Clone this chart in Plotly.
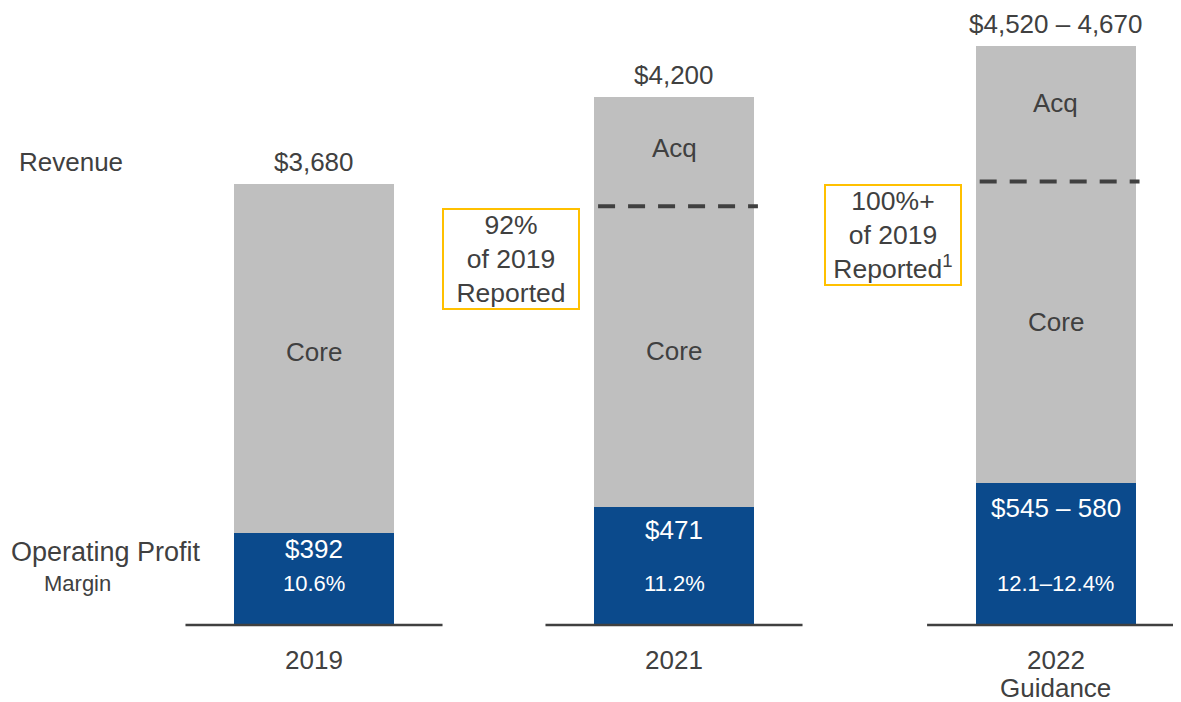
import plotly.graph_objects as go

# ---------------- data ----------------
periods = ["2019", "2021", "2022"]
period_sub = ["", "", "Guidance"]
revenue_labels = ["$3,680", "$4,200", "$4,520 – 4,670"]
profit_labels = ["$392", "$471", "$545 – 580"]
margin_labels = ["10.6%", "11.2%", "12.1–12.4%"]
# bar heights as drawn in the source (the source chart is not to scale),
# expressed in the chart's own $M units (2019 revenue = 3,680)
revenue_bar = [3680, 4405, 4830]
profit_bar = [770, 985, 1185]
core_top = [3680, 3495, 3700]   # top of the "Core" part (dashed line)
callouts = ["92%<br>of 2019<br>Reported", "100%+<br>of 2019<br>Reported<sup>1</sup>"]

# ---------------- styling ----------------
FONT = "Liberation Sans, Arial, sans-serif"
DARK = "#404040"
BLUE = "#0B4A8C"
GREY = "#BFBFBF"
YELLOW = "#FFC000"
WIN_W, WIN_H = 1181, 702
OFF = 8                      # page body margin
W, H = WIN_W - OFF, WIN_H - OFF
x_pos = [0, 1, 2.06]
bar_w = 0.444
PX_X = 360                   # px per x unit
CX0 = 314 - OFF              # px of first bar centre in figure
BASE = 625 - OFF             # px of baseline in figure


def px(xp):
    return (xp - OFF) / W


def py(yp):
    return 1 - (yp - OFF) / H


core_seg = [c - p for c, p in zip(core_top, profit_bar)]
acq_seg = [r - c for r, c in zip(revenue_bar, core_top)]

fig = go.Figure()
fig.add_trace(go.Bar(x=x_pos, y=profit_bar, width=bar_w, marker=dict(color=BLUE, line=dict(width=0)),
                     hoverinfo="skip", showlegend=False))
fig.add_trace(go.Bar(x=x_pos, y=core_seg, width=bar_w, marker=dict(color=GREY, line=dict(width=0)),
                     hoverinfo="skip", showlegend=False))
fig.add_trace(go.Bar(x=x_pos, y=acq_seg, width=bar_w, marker=dict(color=GREY, line=dict(width=0)),
                     hoverinfo="skip", showlegend=False))

ann = []
shapes = []
profit_shift = [-16, -23, -25]
for i, xp in enumerate(x_pos):
    ann.append(dict(x=xp, y=revenue_bar[i], xref="x", yref="y", text=revenue_labels[i],
                    showarrow=False, yanchor="middle", yshift=22,
                    font=dict(family=FONT, size=26, color=DARK)))
    ann.append(dict(x=xp, y=(profit_bar[i] + core_top[i]) / 2, xref="x", yref="y", text="Core",
                    showarrow=False, yanchor="middle", yshift=6 if i < 2 else 10,
                    font=dict(family=FONT, size=26, color=DARK)))
    if acq_seg[i] > 0:
        ann.append(dict(x=xp, y=(core_top[i] + revenue_bar[i]) / 2, xref="x", yref="y", text="Acq",
                        showarrow=False, yanchor="middle", yshift=4 if i == 1 else 11,
                        font=dict(family=FONT, size=26, color=DARK)))
        shapes.append(dict(type="line", xref="x", yref="y",
                           x0=xp - bar_w / 2 + 4 / PX_X, x1=xp + bar_w / 2 + 4 / PX_X,
                           y0=core_top[i], y1=core_top[i],
                           line=dict(color=DARK, width=4, dash="17px,13px")))
    ann.append(dict(x=xp, y=profit_bar[i], xref="x", yref="y", text=profit_labels[i],
                    showarrow=False, yanchor="middle", yshift=profit_shift[i],
                    font=dict(family=FONT, size=26, color="white")))
    ann.append(dict(x=xp, y=0, xref="x", yref="y", text=margin_labels[i],
                    showarrow=False, yanchor="middle", yshift=42,
                    font=dict(family=FONT, size=22, color="white")))
    ann.append(dict(x=xp, y=0, xref="x", yref="y", text=periods[i],
                    showarrow=False, yanchor="middle", yshift=-35,
                    font=dict(family=FONT, size=26, color=DARK)))
    if period_sub[i]:
        ann.append(dict(x=xp, y=0, xref="x", yref="y", text=period_sub[i],
                        showarrow=False, yanchor="middle", yshift=-63,
                        font=dict(family=FONT, size=26, color=DARK)))
    shapes.append(dict(type="line", xref="x", yref="y", x0=xp - 0.357, x1=xp + 0.357,
                       y0=0, y1=0, line=dict(color=DARK, width=2.5)))

ann.append(dict(x=px(17), y=py(162), xref="paper", yref="paper", text="Revenue",
                showarrow=False, xanchor="left", yanchor="middle",
                font=dict(family=FONT, size=26, color=DARK)))
ann.append(dict(x=px(9), y=py(552), xref="paper", yref="paper", text="Operating Profit",
                showarrow=False, xanchor="left", yanchor="middle",
                font=dict(family=FONT, size=27, color=DARK)))
ann.append(dict(x=px(77), y=py(583), xref="paper", yref="paper", text="Margin",
                showarrow=False, xanchor="center", yanchor="middle",
                font=dict(family=FONT, size=22, color=DARK)))

box_centers = [(511, 259), (893, 235)]
for txt, (cx, cy) in zip(callouts, box_centers):
    ann.append(dict(x=px(cx), y=py(cy), xref="paper", yref="paper", text=txt,
                    showarrow=False, xanchor="center", yanchor="middle",
                    width=134, height=98, align="center",
                    bordercolor=YELLOW, borderwidth=2, borderpad=0, bgcolor="white",
                    font=dict(family=FONT, size=26.5, color=DARK)))

k = 441 / 3680  # px per unit
fig.update_layout(
    width=W, height=H, margin=dict(l=0, r=0, t=0, b=0),
    paper_bgcolor="white", plot_bgcolor="white",
    barmode="stack", bargap=0,
    xaxis=dict(range=[-CX0 / PX_X, (W - CX0) / PX_X], visible=False, fixedrange=True),
    yaxis=dict(range=[-(H - BASE) / k, BASE / k], visible=False, fixedrange=True),
    annotations=ann, shapes=shapes, showlegend=False,
)

fig.write_html("out.html")
